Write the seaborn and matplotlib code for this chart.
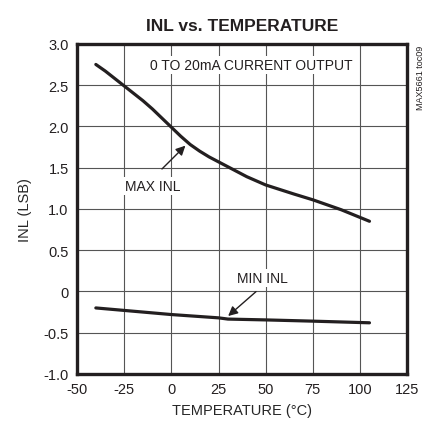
import matplotlib

matplotlib.use("Agg")

import matplotlib.pyplot as plt
import pandas as pd
import seaborn as sns

# values
temp_max = [-40, -35, -25, -15, -10, -5, 0, 5, 10, 15, 20, 25, 30, 40, 50, 65, 75, 90, 105]
inl_max = [2.75, 2.67, 2.49, 2.31, 2.21, 2.10, 1.99, 1.88, 1.78, 1.70, 1.63, 1.57, 1.51, 1.39, 1.29, 1.18, 1.11, 0.99, 0.85]
temp_min = [-40, -25, 0, 25, 30, 50, 75, 105]
inl_min = [-0.20, -0.23, -0.28, -0.32, -0.335, -0.345, -0.36, -0.38]

x_ticks = [-50, -25, 0, 25, 50, 75, 100, 125]
x_tick_labels = ["-50", "-25", "0", "25", "50", "75", "100", "125"]
y_ticks = [-1.0, -0.5, 0, 0.5, 1.0, 1.5, 2.0, 2.5, 3.0]
y_tick_labels = ["-1.0", "-0.5", "0", "0.5", "1.0", "1.5", "2.0", "2.5", "3.0"]

df = pd.concat(
    [
        pd.DataFrame({"temp": temp_max, "inl": inl_max, "curve": "MAX INL"}),
        pd.DataFrame({"temp": temp_min, "inl": inl_min, "curve": "MIN INL"}),
    ]
)

sns.set_theme(style="white")
plt.rcParams["font.family"] = ["Liberation Sans Narrow", "Liberation Sans", "DejaVu Sans"]
plt.rcParams["text.color"] = "#231f20"
plt.rcParams["axes.unicode_minus"] = False

fig = plt.figure(figsize=(4.30, 4.31), dpi=100)
ax = fig.add_axes([0.179, 0.130, 0.768, 0.766])

ax.set_xlim(-50, 125)
ax.set_ylim(-1.0, 3.0)
ax.set_xticks(x_ticks)
ax.set_xticklabels(x_tick_labels)
ax.set_yticks(y_ticks)
ax.set_yticklabels(y_tick_labels)
ax.grid(True, color="#555555", linewidth=0.8)
ax.set_axisbelow(True)
for side in ax.spines.values():
    side.set_linewidth(2.4)
    side.set_color("#231f20")
ax.tick_params(axis="both", length=0, labelsize=10.5, colors="#231f20", pad=6)

sns.lineplot(data=df, x="temp", y="inl", units="curve", estimator=None,
             color="#231f20", linewidth=2.3, ax=ax, sort=False)

ax.set_xlabel("TEMPERATURE (°C)", fontsize=10.5, labelpad=5)
ax.set_ylabel("INL (LSB)", fontsize=10.5, labelpad=8)
ax.set_title("INL vs. TEMPERATURE", fontsize=12.5, fontweight="bold", pad=10)

box = dict(facecolor="white", edgecolor="none", pad=1.5)
ax.text(42.5, 2.74, "0 TO 20mA CURRENT OUTPUT", ha="center", va="center",
        fontsize=10, bbox=box, zorder=3)
ax.annotate("", xy=(8.5, 1.79), xytext=(-6, 1.46),
            arrowprops=dict(arrowstyle="-|>", color="#231f20", lw=1.0, mutation_scale=14))
ax.text(-10, 1.28, "MAX INL", ha="center", va="center", fontsize=10, bbox=box, zorder=3)
ax.annotate("", xy=(29, -0.32), xytext=(46, 0.02),
            arrowprops=dict(arrowstyle="-|>", color="#231f20", lw=1.0, mutation_scale=14))
ax.text(48.5, 0.16, "MIN INL", ha="center", va="center", fontsize=10, bbox=box, zorder=3)

fig.text(0.977, 0.895, "MAX5661 toc09", rotation=90, ha="center", va="top", fontsize=6.5)

fig.savefig("out.png", dpi=100)
